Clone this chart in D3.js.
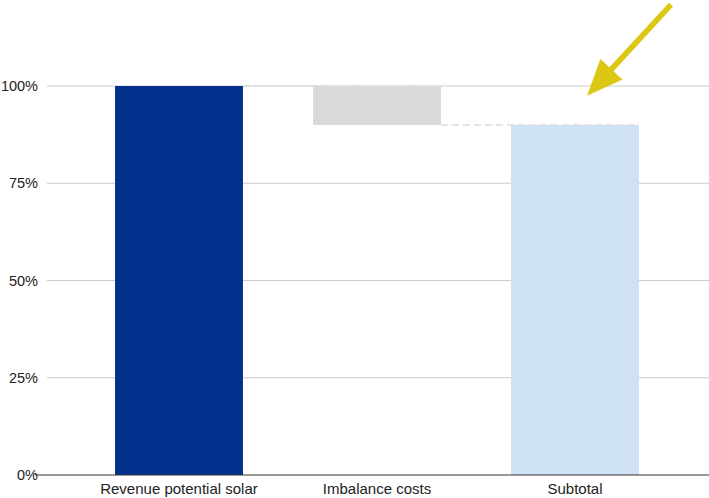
<!DOCTYPE html>
<html><head><meta charset="utf-8">
<script src="https://cdn.jsdelivr.net/npm/d3@7"></script>
<style>body{margin:0;background:#fff}svg{display:block}text{font-family:"Liberation Sans",Arial,sans-serif}</style>
</head><body><svg id="c" width="709" height="498"></svg>
<script>
const categories = ["Revenue potential solar", "Imbalance costs", "Subtotal"];
const starts = [0, 100, 0];
const ends = [100, 90, 90];
const colors = ["#00308c", "#d9d9d9", "#cfe2f3"];
const yTicks = [0, 25, 50, 75, 100];

const svg = d3.select("#c");
const W = 709;
const x = d3.scaleBand().domain(categories).range([80, 674]).paddingInner(0.354).paddingOuter(0.177);
const y = d3.scaleLinear().domain([0, 100]).range([475, 86]);

// gridlines
svg.append("g").selectAll("line").data(yTicks.filter(d => d > 0)).join("line")
  .attr("x1", 47).attr("x2", W).attr("y1", d => y(d)).attr("y2", d => y(d))
  .attr("stroke", "#cccccc").attr("stroke-width", 1);

// y labels
svg.append("g").selectAll("text").data(yTicks).join("text")
  .attr("x", 38).attr("y", d => y(d)).attr("dy", "0.35em").attr("text-anchor", "end")
  .attr("font-size", 14.5).attr("fill", "#222").text(d => d + "%");

// bars
svg.append("g").selectAll("rect").data(categories).join("rect")
  .attr("x", d => x(d)).attr("width", x.bandwidth())
  .attr("y", (d, i) => y(Math.max(starts[i], ends[i])))
  .attr("height", (d, i) => Math.abs(y(starts[i]) - y(ends[i])))
  .attr("fill", (d, i) => colors[i]);

// connectors
const conn = d3.range(categories.length - 1);
svg.append("g").selectAll("line").data(conn).join("line")
  .attr("x1", i => x(categories[i]) + x.bandwidth())
  .attr("x2", i => x(categories[i + 1]) + x.bandwidth())
  .attr("y1", i => y(ends[i])).attr("y2", i => y(ends[i]))
  .attr("stroke", "#dddddd").attr("stroke-width", 1.5).attr("stroke-dasharray", "7,4");

// zero axis
svg.append("line").attr("x1", 35).attr("x2", W).attr("y1", y(0)).attr("y2", y(0))
  .attr("stroke", "#333").attr("stroke-width", 1);

// x labels
svg.append("g").selectAll("text").data(categories).join("text")
  .attr("x", d => x(d) + x.bandwidth() / 2).attr("y", 494).attr("text-anchor", "middle")
  .attr("font-size", 15).attr("fill", "#222").text(d => d);

// arrow annotation pointing at subtotal
const sx = x("Subtotal") + 76, sy = y(97.5);
const tail = [sx + 84, sy - 91];
const ang = Math.atan2(tail[1] - sy, tail[0] - sx);
const ux = Math.cos(ang), uy = Math.sin(ang);
const px = -uy, py = ux;
const headLen = 36, headW = 15, shaftW = 2.8;
const hb = [sx + ux * headLen, sy + uy * headLen];
const pts = [
  [sx, sy],
  [hb[0] + px * headW, hb[1] + py * headW],
  [hb[0] + px * shaftW, hb[1] + py * shaftW],
  [tail[0] + px * shaftW, tail[1] + py * shaftW],
  [tail[0] - px * shaftW, tail[1] - py * shaftW],
  [hb[0] - px * shaftW, hb[1] - py * shaftW],
  [hb[0] - px * headW, hb[1] - py * headW]
];
svg.append("polygon").attr("points", pts.map(p => p.join(",")).join(" ")).attr("fill", "#dcc713");
</script></body></html>
